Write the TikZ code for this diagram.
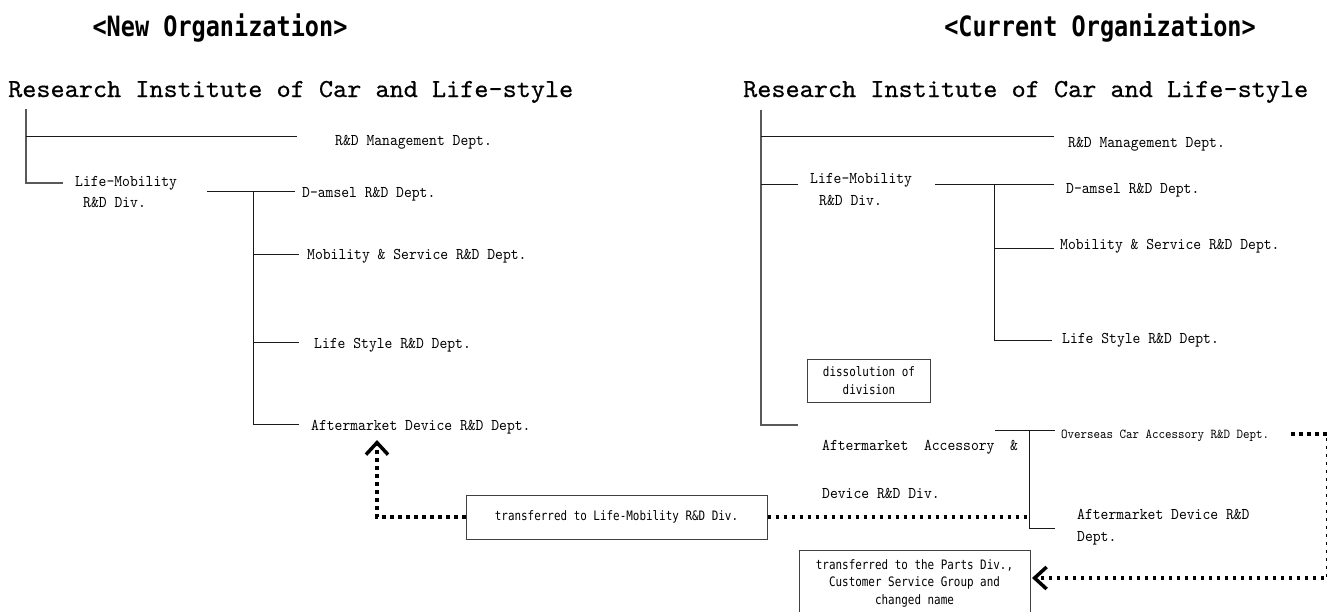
\documentclass[tikz,border=0pt]{standalone}
\usepackage{fontspec}
\usetikzlibrary{arrows.meta}
\newfontfamily\titlefont[FakeStretch=1.035,FakeBold=0.5]{lmmono10-regular.otf}
\newfontfamily\deptfont[FakeStretch=0.91]{lmmono10-regular.otf}
\newfontfamily\headfont[FakeStretch=0.84]{DejaVu Sans Mono}
\newfontfamily\boxfont[FakeStretch=0.84]{DejaVu Sans Mono}
\tikzset{
  titletext/.style={font=\titlefont\fontsize{26}{28}\selectfont, inner sep=0pt, anchor=base west},
  headtext/.style={font=\headfont\bfseries\fontsize{28}{30}\selectfont, inner sep=0pt, anchor=base},
  depttext/.style={font=\deptfont\fontsize{16.4}{20}\selectfont, inner sep=0pt, anchor=base west},
  smalltext/.style={font=\deptfont\fontsize{13.6}{16}\selectfont, inner sep=0pt, anchor=base west},
  notebox/.style={draw=black!75, line width=1pt, font=\boxfont\fontsize{13}{17.5}\selectfont, align=center, inner sep=0pt},
  treeline/.style={line width=1pt, black!90},
  trunkline/.style={line width=1.5pt, black!65},
  dotline/.style={line width=3.5pt, dash pattern=on 3.5pt off 4.5pt},
  barb/.style={-{Straight Barb[length=12pt,width=22pt]}}
}
\begin{document}
\begin{tikzpicture}[x=1pt,y=-1pt]
\useasboundingbox (0,0) rectangle (1327,611);

% headers and titles
\node[headtext] (hL) at (220,36) {<New Organization>};
\node[headtext] (hR) at (1100,36) {<Current Organization>};
\node[titletext] (tL) at (8,97) {Research Institute of Car and Life-style};
\node[titletext] (tR) at (743,97) {Research Institute of Car and Life-style};

% ---------- left tree ----------
\coordinate (LT) at (26,109);
\coordinate (LB) at (26,183);
\coordinate (LBe) at (63,183);
\coordinate (LM) at (26,136);
\coordinate (LMe) at (297,136);
\draw[trunkline] (LT) -- (LB) -- (LBe);
\draw[treeline] (LM) -- (LMe);
\node[depttext] (lmgmt) at (335,145) {R\&D Management Dept.};
\node[depttext] (llm1) at (75,186) {Life-Mobility};
\node[depttext] (llm2) at (83,207) {R\&D Div.};
\coordinate (LDa) at (207,191);
\coordinate (LDj) at (253,191);
\coordinate (LDe) at (295,191);
\coordinate (LSb) at (253,424);
\coordinate (LMo) at (253,254);
\coordinate (LMoe) at (299,254);
\coordinate (LLs) at (253,342);
\coordinate (LLse) at (299,342);
\coordinate (LAfe) at (299,424);
\draw[treeline] (LDa) -- (LDe);
\draw[treeline] (LDj) -- (LSb) -- (LAfe);
\draw[treeline] (LMo) -- (LMoe);
\draw[treeline] (LLs) -- (LLse);
\node[depttext] (ldam) at (302,197) {D-amsel R\&D Dept.};
\node[depttext] (lmob) at (307,259) {Mobility \& Service R\&D Dept.};
\node[depttext] (llife) at (314,348) {Life Style R\&D Dept.};
\node[depttext] (laft) at (311,430) {Aftermarket Device R\&D Dept.};

% ---------- right tree ----------
\coordinate (RT) at (761,110);
\coordinate (RB) at (761,425);
\coordinate (RBe) at (798,425);
\coordinate (RM) at (761,136);
\coordinate (RMe) at (1054,136);
\coordinate (RL) at (761,184);
\coordinate (RLe) at (798,184);
\draw[trunkline] (RT) -- (RB) -- (RBe);
\draw[treeline] (RM) -- (RMe);
\draw[treeline] (RL) -- (RLe);
\node[depttext] (rmgmt) at (1068,147) {R\&D Management Dept.};
\node[depttext] (rlm1) at (810,183) {Life-Mobility};
\node[depttext] (rlm2) at (819,205) {R\&D Div.};
\coordinate (RDa) at (935,184);
\coordinate (RDj) at (994,184);
\coordinate (RDe) at (1054,184);
\coordinate (RSb) at (994,340);
\coordinate (RLse) at (1052,340);
\coordinate (RMo) at (994,248);
\coordinate (RMoe) at (1054,248);
\draw[treeline] (RDa) -- (RDe);
\draw[treeline] (RDj) -- (RSb) -- (RLse);
\draw[treeline] (RMo) -- (RMoe);
\node[depttext] (rdam) at (1066,193) {D-amsel R\&D Dept.};
\node[depttext] (rmob) at (1060,249) {Mobility \& Service R\&D Dept.};
\node[depttext] (rlife) at (1062,343) {Life Style R\&D Dept.};

\node[notebox, minimum width=123pt, minimum height=43pt] (diss) at (869,380.5) {dissolution of\\division};

\node[depttext] (raa1) at (822,450) {Aftermarket\ \ Accessory\ \ \&};
\node[depttext] (raa2) at (822,498) {Device R\&D Div.};
\coordinate (RKt) at (995,430);
\coordinate (RKj) at (1029,430);
\coordinate (RKte) at (1055,430);
\coordinate (RKb) at (1029,528);
\coordinate (RKbe) at (1055,528);
\draw[treeline] (RKt) -- (RKte);
\draw[treeline] (RKj) -- (RKb) -- (RKbe);
\node[smalltext] (rover) at (1061,438) {Overseas Car Accessory R\&D Dept.};
\node[depttext] (raft1) at (1077,519) {Aftermarket Device R\&D};
\node[depttext] (raft2) at (1077,541) {Dept.};

% ---------- transfer notes ----------
\node[notebox, minimum width=301pt, minimum height=44pt] (tr1) at (616.5,517) {transferred to Life-Mobility R\&D Div.};
\node[notebox, minimum width=231pt, minimum height=66pt] (tr2) at (914.5,583) {transferred to the Parts Div.,\\Customer Service Group and\\changed name};

\coordinate (LArrow) at (377,440);
\draw[dotline, barb] (tr1.west) -| (LArrow);
\draw[dotline] (tr1.east) -- (tr1.east -| RKj);

\coordinate (OvS) at (1291,434);
\coordinate (OvC) at (1327.5,434);
\coordinate (OvD) at (1327.5,578);
\coordinate (RArrow) at (1032,578);
\draw[dotline, barb] (OvS) -- (OvC) -- (OvD) -- (RArrow);
\end{tikzpicture}
\end{document}
